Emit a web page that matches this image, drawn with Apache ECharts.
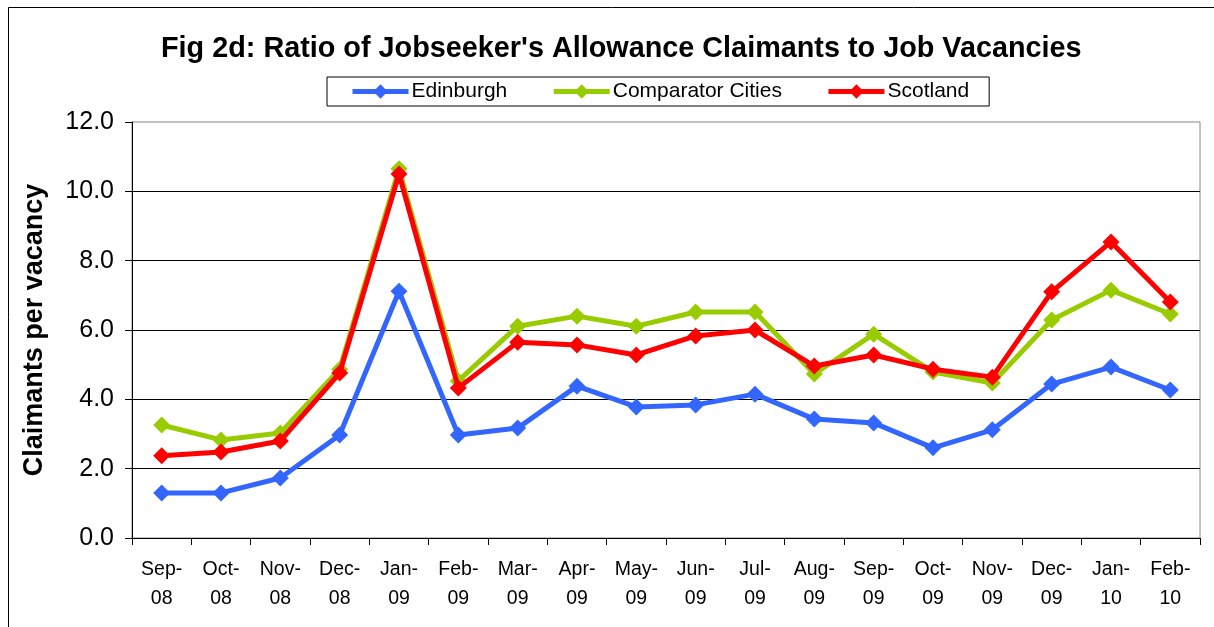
<!DOCTYPE html>
<html>
<head>
<meta charset="utf-8">
<script src="https://cdn.jsdelivr.net/npm/echarts@6/dist/echarts.min.js"></script>
<style>html,body{margin:0;padding:0;background:#fff;}#c{width:1214px;height:627px;}</style>
</head>
<body>
<div id="c"></div>
<script>
const categories = ['Sep-\n08','Oct-\n08','Nov-\n08','Dec-\n08','Jan-\n09','Feb-\n09','Mar-\n09','Apr-\n09','May-\n09','Jun-\n09','Jul-\n09','Aug-\n09','Sep-\n09','Oct-\n09','Nov-\n09','Dec-\n09','Jan-\n10','Feb-\n10'];
const edinburgh = [1.30,1.30,1.73,2.97,7.12,2.97,3.17,4.38,3.78,3.84,4.15,3.43,3.32,2.60,3.12,4.44,4.93,4.27];
const comparator = [3.26,2.83,3.03,4.87,10.65,4.53,6.11,6.40,6.11,6.52,6.52,4.73,5.88,4.79,4.47,6.29,7.15,6.46];
const scotland = [2.37,2.48,2.80,4.76,10.50,4.33,5.65,5.57,5.28,5.83,6.00,4.96,5.28,4.87,4.64,7.10,8.54,6.81];
const seriesNames = ['Edinburgh','Comparator Cities','Scotland'];

const chart = echarts.init(document.getElementById('c'), null, {renderer:'canvas'});
const F = '"Liberation Sans", Arial, sans-serif';
function mk(name, data, color, z){
  return {name, type:'line', data, z, symbol:'diamond', symbolSize:17,
    lineStyle:{color, width:5}, itemStyle:{color}, emphasis:{disabled:true}, animation:false};
}
chart.setOption({
  animation:false,
  graphic:[{type:'rect', shape:{x:8.5,y:7.5,width:1400,height:800}, style:{fill:null, stroke:'#000', lineWidth:1}, z:-10}],
  title:{text:"Fig 2d: Ratio of Jobseeker's Allowance Claimants to Job Vacancies", left:156, top:30,
    textStyle:{fontFamily:F, fontWeight:'bold', fontSize:28.8, color:'#000'}},
  legend:{data:seriesNames, top:77, left:327, padding:[4,20,4,23], itemGap:44,
    borderColor:'#000', borderWidth:1, itemWidth:56, itemHeight:18,
    lineStyle:{width:5}, 
    textStyle:{fontFamily:F, fontSize:21, color:'#000', padding:[0,0,0,-2]}},
  grid:{left:132, right:14, top:122, bottom:89, show:true, borderColor:'#888', borderWidth:1},
  xAxis:{type:'category', data:categories, boundaryGap:true,
    axisLine:{lineStyle:{color:'#000', width:1}},
    axisTick:{show:true, length:7, lineStyle:{color:'#000'}},
    axisLabel:{fontFamily:F, fontSize:19.5, color:'#000', lineHeight:29, margin:17, interval:0}},
  yAxis:{type:'value', min:0, max:12, interval:2,
    name:'Claimants per vacancy', nameLocation:'middle', nameGap:84,
    nameTextStyle:{fontFamily:F, fontWeight:'bold', fontSize:27, color:'#000'},
    axisLine:{show:true, lineStyle:{color:'#000', width:1}},
    axisTick:{show:true, length:7, inside:false, lineStyle:{color:'#000'}},
    axisLabel:{fontFamily:F, fontSize:25, color:'#000', margin:18, formatter:v=>v.toFixed(1)},
    splitLine:{showMaxLine:false, lineStyle:{color:'#000', width:1}}},
  series:[mk(seriesNames[0], edinburgh, '#3366FF', 3), mk(seriesNames[1], comparator, '#99CC00', 2), mk(seriesNames[2], scotland, '#FF0000', 4)]
});
</script>
</body>
</html>
